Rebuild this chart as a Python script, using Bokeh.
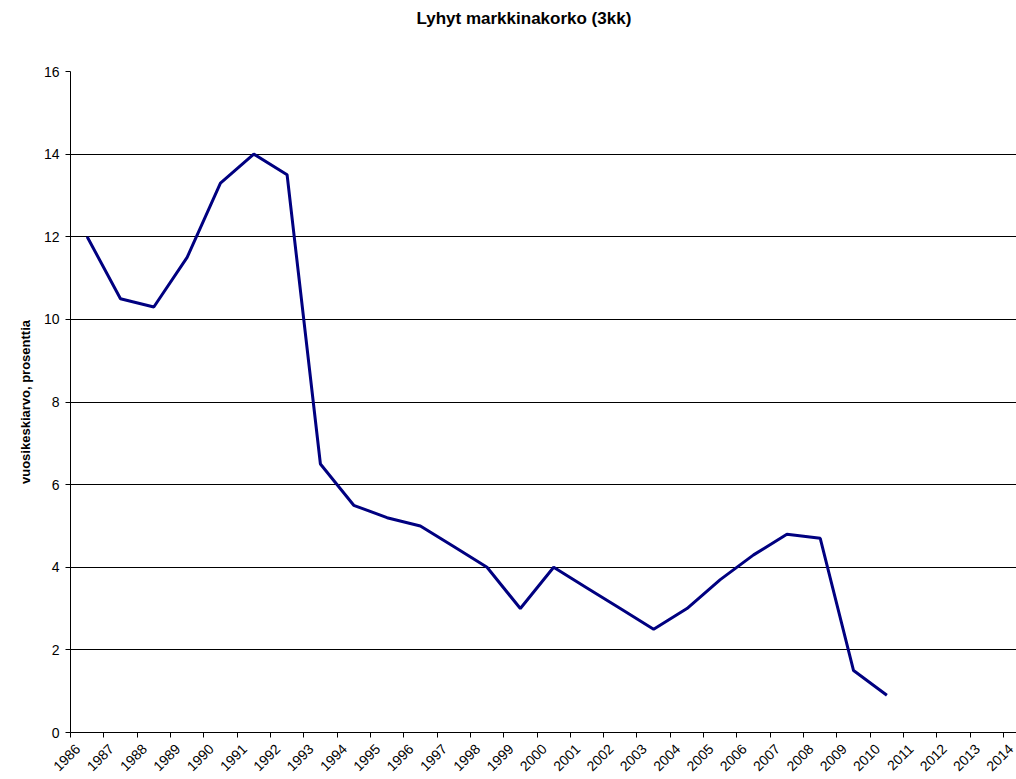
import numpy as np
from bokeh.plotting import figure
from bokeh.models import Range1d, FixedTicker, Title, CustomJSTickFormatter
from bokeh.embed import file_html
from bokeh.resources import INLINE

years = list(range(1986, 2011))
rates = [12.0, 10.5, 10.3, 11.5, 13.3, 14.0, 13.5, 6.5, 5.5, 5.2, 5.0, 4.5, 4.0,
         3.0, 4.0, 3.5, 3.0, 2.5, 3.0, 3.7, 4.3, 4.8, 4.7, 1.5, 0.9]
tick_years = list(range(1986, 2015))
y_ticks = [0, 2, 4, 6, 8, 10, 12, 14, 16]

title_text = "Lyhyt markkinakorko (3kk)"
y_label = "vuosikeskiarvo, prosenttia"

FONT = "Liberation Sans"

p = figure(frame_width=946, frame_height=661, output_backend="svg",
           toolbar_location=None, x_range=Range1d(1986, 2014.39),
           y_range=Range1d(0, 16), min_border_left=70, min_border_right=0,
           min_border_top=71, min_border_bottom=47)
p.title = None

spacer = Title(text=" ", text_font=FONT, text_font_size="13px", standoff=25)
p.add_layout(spacer, "above")
t = Title(text=title_text, align="left", vertical_align="top", text_font=FONT,
          text_font_size="17px", text_font_style="bold", text_color="black",
          standoff=0, offset=346)
p.add_layout(t, "above")

p.outline_line_color = None
p.background_fill_color = "white"
p.border_fill_color = "white"

xs = [y + 0.5 for y in years]
p.line(xs, rates, line_color="#000080", line_width=3)

# x axis: boundary ticks as minor ticks, labels slightly right of boundary
label_pos = [y + 0.22 for y in tick_years]
p.xaxis.ticker = FixedTicker(ticks=label_pos, minor_ticks=tick_years)
p.xaxis.formatter = CustomJSTickFormatter(code="return Math.floor(tick + 0.01).toString();")
p.xaxis.major_label_orientation = np.pi / 4
p.xaxis.major_label_text_font = FONT
p.xaxis.major_label_text_font_size = "14px"
p.xaxis.major_label_text_color = "black"
p.xaxis.axis_line_color = "black"
p.xaxis.major_tick_line_color = None
p.xaxis.major_tick_in = 0
p.xaxis.major_tick_out = 5
p.xaxis.minor_tick_line_color = "black"
p.xaxis.minor_tick_in = 0
p.xaxis.minor_tick_out = 5
p.xaxis.major_label_standoff = 9

# y axis
p.yaxis.ticker = FixedTicker(ticks=y_ticks)
p.yaxis.major_label_text_font = FONT
p.yaxis.major_label_text_font_size = "14px"
p.yaxis.major_label_text_color = "black"
p.yaxis.axis_line_color = "black"
p.yaxis.major_tick_line_color = "black"
p.yaxis.major_tick_in = 0
p.yaxis.major_tick_out = 5
p.yaxis.minor_tick_line_color = None
p.yaxis.major_label_standoff = 6
p.yaxis.axis_label = y_label
p.yaxis.axis_label_text_font = FONT
p.yaxis.axis_label_text_font_size = "13px"
p.yaxis.axis_label_text_font_style = "bold"
p.yaxis.axis_label_text_color = "black"
p.yaxis.axis_label_standoff = 8

p.xgrid.grid_line_color = None
p.ygrid.grid_line_color = "black"
p.ygrid.grid_line_width = 1

open("out.html", "w").write(file_html(p, INLINE))
